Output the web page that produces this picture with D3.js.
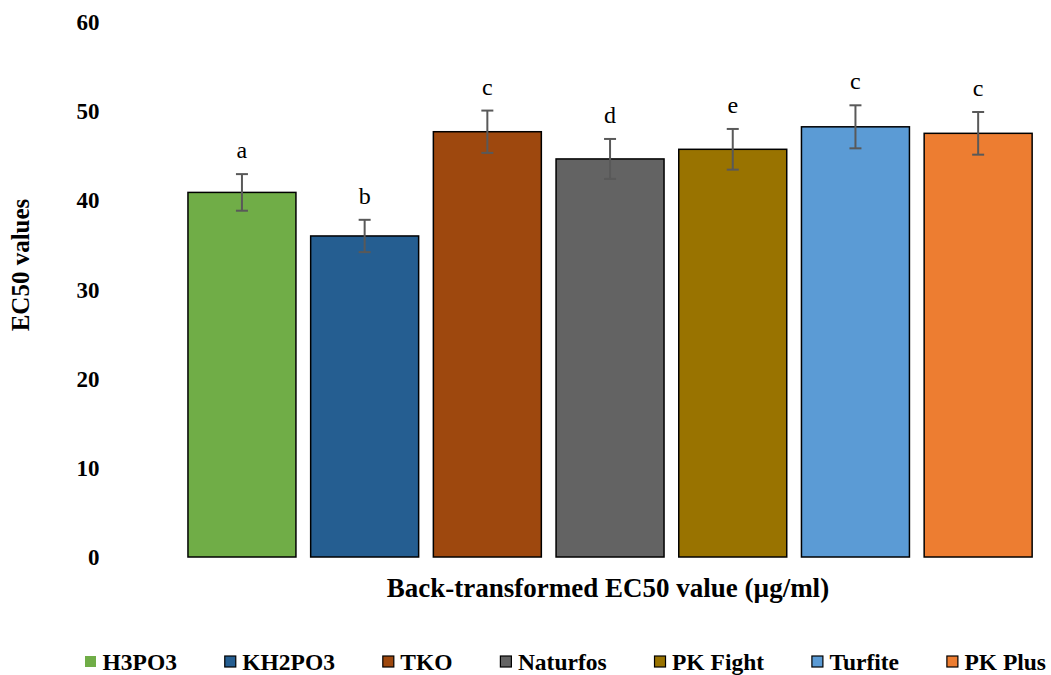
<!DOCTYPE html>
<html>
<head>
<meta charset="utf-8">
<script src="https://cdn.jsdelivr.net/npm/d3@7"></script>
<style>
  html, body { margin: 0; padding: 0; background: #fff; }
  svg { display: block; font-family: "Liberation Serif", "Times New Roman", serif; }
</style>
</head>
<body>
<svg id="chart" width="1051" height="675"></svg>
<script>
const categories = ["H3PO3", "KH2PO3", "TKO", "Naturfos", "PK Fight", "Turfite", "PK Plus"];
const values = [40.85, 35.97, 47.65, 44.6, 45.68, 48.2, 47.47];
const errors = [2.05, 1.81, 2.37, 2.24, 2.28, 2.41, 2.39];
const letters = ["a", "b", "c", "d", "e", "c", "c"];
const colors = ["#70AD47", "#255E91", "#9E480E", "#636363", "#997300", "#5B9BD5", "#ED7D31"];
const yTicks = [0, 10, 20, 30, 40, 50, 60];

const svg = d3.select("#chart");
const margin = { left: 180.6, right: 11.5, top: 21.5, bottom: 118 };
const W = 1051, H = 675;
const serif = "Liberation Serif, Times New Roman, serif";

const x = d3.scaleBand().domain(categories).range([margin.left, W - margin.right]).paddingInner(0.12).paddingOuter(0.06);
const y = d3.scaleLinear().domain([0, 60]).range([557, margin.top]);

// Y axis (labels only)
const yAxis = d3.axisLeft(y).tickValues(yTicks).tickSize(0).tickPadding(0);
const yg = svg.append("g").attr("transform", "translate(99.5,0)").call(yAxis);
yg.attr("font-family", serif);
yg.select(".domain").remove();
yg.selectAll("text")
  .attr("font-family", serif)
  .attr("font-weight", "bold").attr("font-size", 23).attr("fill", "#000")
  .attr("dy", "0.34em");

// Bars
svg.append("g").selectAll("rect").data(categories).join("rect")
  .attr("x", d => x(d))
  .attr("width", x.bandwidth())
  .attr("y", (d, i) => y(values[i]))
  .attr("height", (d, i) => y(0) - y(values[i]))
  .attr("fill", (d, i) => colors[i])
  .attr("stroke", "#000").attr("stroke-width", 1.5);

// Error bars
const eg = svg.append("g").attr("stroke", "#595959").attr("stroke-width", 2);
categories.forEach((c, i) => {
  const cx = x(c) + x.bandwidth() / 2;
  const y1 = y(values[i] + errors[i]), y2 = y(values[i] - errors[i]);
  eg.append("line").attr("x1", cx).attr("x2", cx).attr("y1", y1).attr("y2", y2);
  eg.append("line").attr("x1", cx - 6).attr("x2", cx + 6).attr("y1", y1).attr("y2", y1);
  eg.append("line").attr("x1", cx - 6).attr("x2", cx + 6).attr("y1", y2).attr("y2", y2);
});

// Letters
svg.append("g").selectAll("text").data(categories).join("text")
  .attr("x", d => x(d) + x.bandwidth() / 2)
  .attr("y", (d, i) => y(values[i] + errors[i]) - 16)
  .attr("text-anchor", "middle")
  .attr("font-family", serif)
  .attr("font-size", 24).attr("fill", "#000")
  .text((d, i) => letters[i]);

// Axis titles
svg.append("text")
  .attr("x", 608).attr("y", 597)
  .attr("text-anchor", "middle").attr("font-weight", "bold").attr("font-size", 27)
  .attr("font-family", serif)
  .text("Back-transformed EC50 value (µg/ml)");

svg.append("text")
  .attr("transform", "translate(29,265) rotate(-90)")
  .attr("text-anchor", "middle").attr("font-weight", "bold").attr("font-size", 25)
  .attr("font-family", serif)
  .text("EC50 values");

// Legend
const lg = svg.append("g");
const legStart = 85, legEnd = 1046, swOff = 17.5;
const items = categories.map((c, i) => {
  const g = lg.append("g");
  const r = g.append("rect").attr("y", 656).attr("width", 11).attr("height", 11)
    .attr("fill", colors[i])
    .attr("stroke", i === 0 ? "none" : "#000").attr("stroke-width", 1.2);
  const t = g.append("text").attr("y", 670)
    .attr("font-family", serif)
    .attr("font-weight", "bold").attr("font-size", 23.5).text(c);
  return { r, t, w: t.node().getComputedTextLength() };
});
const totalText = d3.sum(items, d => d.w);
const gap = (legEnd - legStart - items.length * swOff - totalText) / (items.length - 1);
let lx = legStart;
items.forEach(it => {
  it.r.attr("x", lx);
  it.t.attr("x", lx + swOff);
  lx += swOff + it.w + gap;
});
</script>
</body>
</html>
